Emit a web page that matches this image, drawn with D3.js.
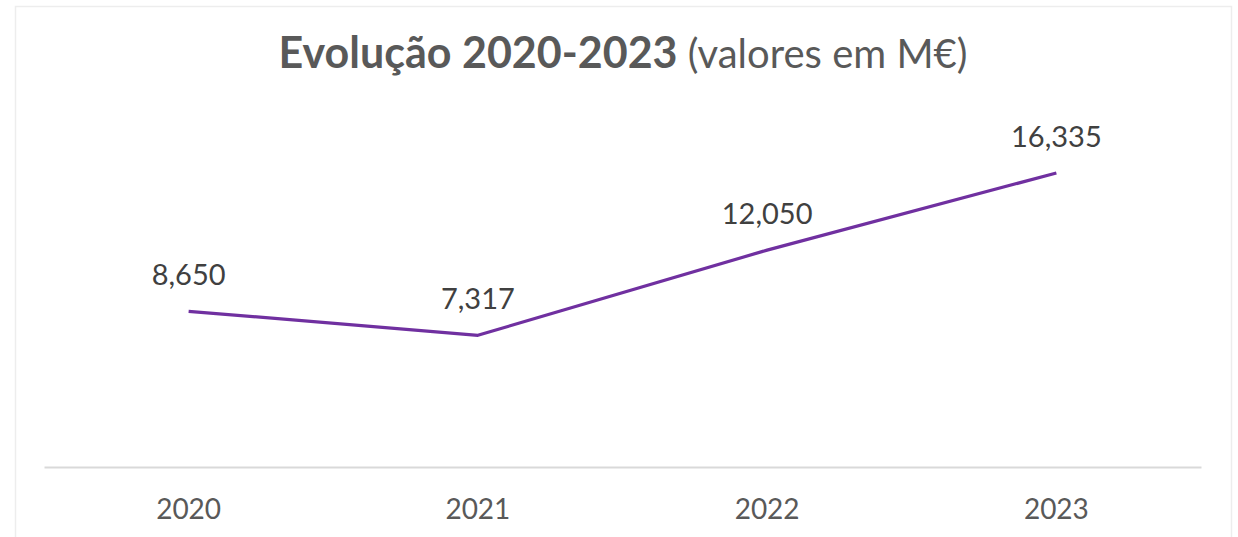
<!DOCTYPE html>
<html>
<head>
<meta charset="utf-8">
<script src="https://cdn.jsdelivr.net/npm/d3@7"></script>
<style>
  body { margin: 0; background: #fff; }
  svg { display: block; font-family: Lato, 'Open Sans', sans-serif; }
</style>
</head>
<body>
<svg></svg>
<script>
// data
const years = ['2020', '2021', '2022', '2023']
const values = [8650, 7317, 12050, 16335]
const valueLabels = ['8,650', '7,317', '12,050', '16,335']

const width = 1238
const height = 537
const svg = d3.select('svg').attr('width', width).attr('height', height)

// chart frame
svg.append('rect')
    .attr('x', 15.5).attr('y', 6.5)
    .attr('width', 1216).attr('height', 540)
    .attr('fill', '#fff')
    .attr('stroke', '#ededed')
    .attr('stroke-width', 1.5)

// title
const title = svg.append('text')
    .attr('x', 623).attr('y', 68)
    .attr('text-anchor', 'middle')
    .attr('fill', '#595959')
title.append('tspan').attr('font-weight', 700).attr('font-size', 43).text('Evolução 2020-2023')
title.append('tspan').attr('font-size', 40).text(' (valores em M€)')

const plot = {left: 44, right: 1201, top: 107, bottom: 467}

const xScale = d3.scaleBand()
    .domain(years)
    .range([plot.left, plot.right])
const yScale = d3.scaleLinear()
    .domain([0, 20000])
    .range([plot.bottom, plot.top])

const xAxis = d3.axisBottom(xScale).tickSize(0).tickPadding(32)
const gx = svg.append('g')
    .attr('transform', 'translate(0,' + plot.bottom + ')')
    .call(xAxis)
gx.select('.domain').attr('stroke', '#d9d9d9').attr('stroke-width', 2)
gx.selectAll('text')
    .attr('font-family', 'Lato, sans-serif')
    .attr('font-size', 28)
    .attr('fill', '#595959')

const cx = (d, i) => xScale(years[i]) + xScale.bandwidth() / 2

const line = d3.line()
    .x((d, i) => cx(d, i))
    .y(d => yScale(d))

svg.append('path')
    .datum(values)
    .attr('d', line)
    .attr('fill', 'none')
    .attr('stroke', '#7030a0')
    .attr('stroke-width', 3.2)
    .attr('stroke-linejoin', 'round')

svg.selectAll('.val')
    .data(values)
    .enter()
    .append('text')
    .attr('class', 'val')
    .attr('x', (d, i) => cx(d, i))
    .attr('y', d => yScale(d) - 26)
    .attr('text-anchor', 'middle')
    .attr('font-size', 29)
    .attr('fill', '#404040')
    .text((d, i) => valueLabels[i])
</script>
</body>
</html>
